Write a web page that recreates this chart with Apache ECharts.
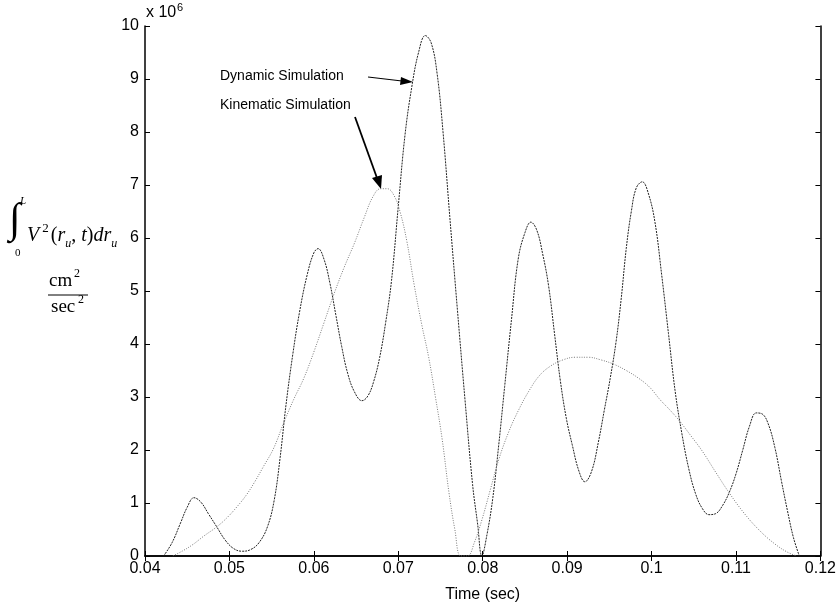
<!DOCTYPE html>
<html>
<head>
<meta charset="utf-8">
<script src="https://cdn.jsdelivr.net/npm/echarts@6/dist/echarts.min.js"></script>
<style>
  html, body { margin: 0; padding: 0; background: #fff; }
  #chart { width: 839px; height: 608px; }
</style>
</head>
<body>
<div id="chart"></div>
<script>
// time (sec) and integral values (x 10^6 cm^2/sec^2)
const dynamicTime = [
  0.0422, 0.0432, 0.0442, 0.0450, 0.0458, 0.0466, 0.0475, 0.0485, 0.0495, 0.0505,
  0.0515, 0.0525, 0.0535, 0.0545, 0.0553, 0.0560, 0.0567, 0.0575, 0.0583, 0.0592,
  0.0600, 0.0605, 0.0612, 0.0619, 0.0626, 0.0633, 0.0640, 0.0648, 0.0657, 0.0664,
  0.0671, 0.0678, 0.0685, 0.0692, 0.0700, 0.0708, 0.0716, 0.0724, 0.0732, 0.0739,
  0.0746, 0.0753, 0.0761, 0.0770, 0.0779, 0.0788, 0.0794, 0.0799, 0.0805, 0.0812,
  0.0819, 0.0826, 0.0834, 0.0842, 0.0850, 0.0857, 0.0864, 0.0871, 0.0878, 0.0885,
  0.0892, 0.0899, 0.0906, 0.0914, 0.0921, 0.0929, 0.0937, 0.0944, 0.0951, 0.0958,
  0.0964, 0.0970, 0.0976, 0.0982, 0.0989, 0.0996, 0.1004, 0.1012, 0.1020, 0.1028,
  0.1036, 0.1044, 0.1052, 0.1060, 0.1068, 0.1076, 0.1084, 0.1092, 0.1100, 0.1108,
  0.1116, 0.1124, 0.1131, 0.1138, 0.1146, 0.1154, 0.1161, 0.1168, 0.1175,
];
const dynamicValue = [
  0, 0.25, 0.62, 0.92, 1.10, 1.02, 0.80, 0.55, 0.30, 0.14,
  0.09, 0.12, 0.25, 0.55, 1.05, 1.85, 2.85, 3.80, 4.60, 5.30,
  5.72, 5.80, 5.60, 5.15, 4.55, 3.95, 3.45, 3.10, 2.93, 3.02,
  3.30, 3.75, 4.40, 5.20, 6.60, 7.95, 8.85, 9.50, 9.82, 9.68,
  9.10, 8.00, 6.40, 4.65, 2.95, 1.35, 0.60, 0, 0.40, 1.10,
  2.10, 3.20, 4.45, 5.60, 6.10, 6.30, 6.15, 5.70, 5.10, 4.20,
  3.30, 2.60, 2.10, 1.60, 1.40, 1.60, 2.15, 2.75, 3.35, 4.05,
  4.85, 5.80, 6.50, 6.95, 7.06, 6.85, 6.30, 5.30, 4.20, 3.10,
  2.30, 1.65, 1.18, 0.90, 0.78, 0.80, 0.95, 1.20, 1.55, 2.00,
  2.45, 2.70, 2.68, 2.50, 2.05, 1.40, 0.85, 0.35, 0,
];

const kinematicTime = [
  0.0433, 0.0445, 0.0457, 0.0470, 0.0485, 0.0497, 0.0509, 0.0520, 0.0530, 0.0540,
  0.0552, 0.0564, 0.0576, 0.0588, 0.0600, 0.0612, 0.0624, 0.0636, 0.0648, 0.0660,
  0.0670, 0.0679, 0.0687, 0.0695, 0.0702, 0.0710, 0.0719, 0.0728, 0.0736, 0.0744,
  0.0752, 0.0760, 0.0767, 0.0774, 0.0782, 0.0790, 0.0799, 0.0809, 0.0819, 0.0831,
  0.0843, 0.0855, 0.0867, 0.0880, 0.0895, 0.0910, 0.0925, 0.0940, 0.0955, 0.0970,
  0.0985, 0.0998, 0.1010, 0.1022, 0.1033, 0.1046, 0.1060, 0.1076, 0.1092, 0.1110,
  0.1128, 0.1145, 0.1160, 0.1172,
];
const kinematicValue = [
  0, 0.10, 0.22, 0.38, 0.55, 0.72, 0.93, 1.15, 1.40, 1.68,
  2.02, 2.50, 2.95, 3.35, 3.85, 4.40, 4.95, 5.45, 5.90, 6.40,
  6.78, 6.93, 6.93, 6.80, 6.50, 5.95, 5.10, 4.35, 3.75, 3.00,
  2.20, 1.20, 0.50, 0, 0, 0.25, 0.68, 1.25, 1.82, 2.35,
  2.77, 3.12, 3.40, 3.58, 3.70, 3.75, 3.75, 3.70, 3.62, 3.50,
  3.35, 3.18, 2.95, 2.75, 2.55, 2.28, 1.98, 1.58, 1.19, 0.80,
  0.48, 0.24, 0.08, 0,
];

const xTicks = { min: 0.04, max: 0.12, step: 0.01 };
const yTicks = { min: 0, max: 10, step: 1 };

const pair = (xs, ys) => xs.map((x, i) => [x, ys[i]]);

const chart = echarts.init(document.getElementById("chart"));

const axisColor = "#000";
const labelFont = "Liberation Sans, Arial, sans-serif";
const serif = "Liberation Serif, Times New Roman, serif";

const baseAxis = {
  type: "value",
  axisLine: { show: true, lineStyle: { color: axisColor, width: 1.5 } },
  axisTick: { show: true, inside: true, length: 5, lineStyle: { color: axisColor } },
  splitLine: { show: false },
};

const option = {
  animation: false,
  backgroundColor: "#fff",
  grid: { left: 145, right: 18, top: 26, bottom: 52 },
  xAxis: [
    {
      ...baseAxis,
      position: "bottom",
      min: xTicks.min,
      max: xTicks.max,
      interval: xTicks.step,
      axisLabel: { color: "#000", fontSize: 16, fontFamily: labelFont, margin: 5 },
      name: "Time (sec)",
      nameLocation: "middle",
      nameGap: 31,
      nameTextStyle: { color: "#000", fontSize: 16, fontFamily: labelFont },
    },
    {
      ...baseAxis,
      position: "top",
      min: xTicks.min,
      max: xTicks.max,
      interval: xTicks.step,
      axisLabel: { show: false },
    },
  ],
  yAxis: [
    {
      ...baseAxis,
      position: "left",
      min: yTicks.min,
      max: yTicks.max,
      interval: yTicks.step,
      axisLabel: { color: "#000", fontSize: 16, fontFamily: labelFont, margin: 6 },
    },
    {
      ...baseAxis,
      position: "right",
      min: yTicks.min,
      max: yTicks.max,
      interval: yTicks.step,
      axisLabel: { show: false },
    },
  ],
  series: [
    {
      name: "Dynamic Simulation",
      type: "line",
      data: pair(dynamicTime, dynamicValue),
      showSymbol: false,
      smooth: 0.4,
      clip: true,
      lineStyle: { color: "#222", width: 1, type: [2, 1] },
    },
    {
      name: "Kinematic Simulation",
      type: "line",
      data: pair(kinematicTime, kinematicValue),
      showSymbol: false,
      smooth: 0.4,
      clip: true,
      lineStyle: { color: "#7a7a7a", width: 1, type: [1, 1.5] },
    },
  ],
  graphic: [
    // x 10^6 multiplier
    { type: "text", left: 146, top: 5, style: { text: "x 10", fill: "#000", font: "16px " + labelFont } },
    { type: "text", left: 177, top: 2, style: { text: "6", fill: "#000", font: "11px " + labelFont } },

    // annotations
    { type: "text", left: 220, top: 69, style: { text: "Dynamic Simulation", fill: "#000", font: "14px " + labelFont } },
    { type: "text", left: 220, top: 98, style: { text: "Kinematic Simulation", fill: "#000", font: "14px " + labelFont } },
    { type: "line", shape: { x1: 368, y1: 77, x2: 402, y2: 81 }, style: { stroke: "#000", lineWidth: 1.2 } },
    { type: "polygon", shape: { points: [[413, 82], [401, 77], [400, 85]] }, style: { fill: "#000" } },
    { type: "line", shape: { x1: 355, y1: 117, x2: 377, y2: 178 }, style: { stroke: "#000", lineWidth: 1.8 } },
    { type: "polygon", shape: { points: [[381, 189], [372, 178], [382, 175]] }, style: { fill: "#000" } },

    // y-axis label: integral
    { type: "text", left: 9, top: 200, style: { text: "\u222B", fill: "#000", font: "42px " + serif } },
    { type: "text", left: 20, top: 196, style: { text: "L", fill: "#000", font: "italic 11px " + serif } },
    { type: "text", left: 15, top: 248, style: { text: "0", fill: "#000", font: "11px " + serif } },
    {
      type: "text",
      left: 27,
      top: 222,
      style: {
        text: "{i|V}{sp|2}{n|(}{i|r}{sb|u}{n|, }{i|t}{n|)}{i|dr}{sb|u}",
        fill: "#000",
        rich: {
          i: { font: "italic 20px " + serif, lineHeight: 28, verticalAlign: "middle" },
          n: { font: "20px " + serif, lineHeight: 28, verticalAlign: "middle" },
          sp: { font: "13px " + serif, lineHeight: 13, verticalAlign: "top", padding: [0, 2, 0, 3] },
          sb: { font: "italic 12px " + serif, lineHeight: 12, verticalAlign: "bottom" },
        },
      },
    },
    // fraction cm^2 / sec^2
    { type: "text", left: 49, top: 272, style: { text: "cm", fill: "#000", font: "19px " + serif } },
    { type: "text", left: 74, top: 268, style: { text: "2", fill: "#000", font: "12px " + serif } },
    { type: "line", shape: { x1: 48, y1: 295, x2: 88, y2: 295 }, style: { stroke: "#000", lineWidth: 1 } },
    { type: "text", left: 51, top: 298, style: { text: "sec", fill: "#000", font: "19px " + serif } },
    { type: "text", left: 78, top: 294, style: { text: "2", fill: "#000", font: "12px " + serif } },
  ],
};

chart.setOption(option);
</script>
</body>
</html>
